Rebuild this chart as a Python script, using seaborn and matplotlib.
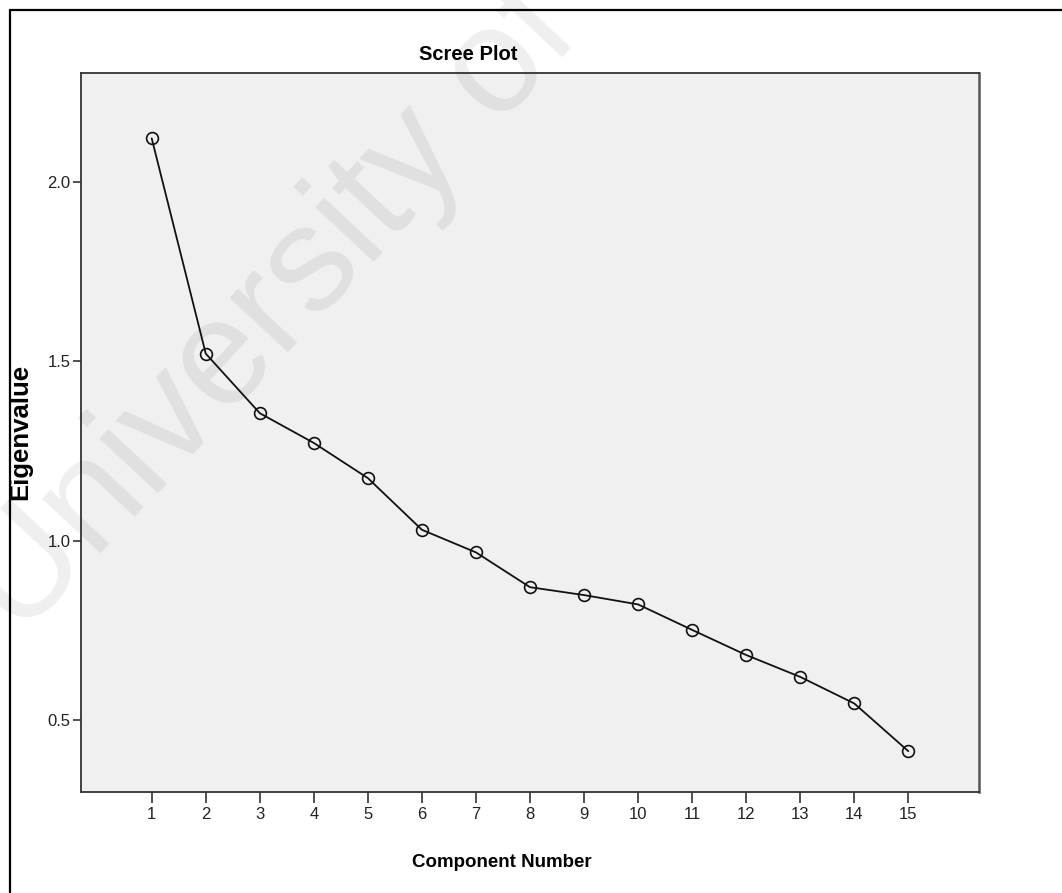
import matplotlib
matplotlib.use("Agg")
import matplotlib.pyplot as plt
from matplotlib.lines import Line2D
import seaborn as sns
import pandas as pd

# ---- data ----
components = [1, 2, 3, 4, 5, 6, 7, 8, 9, 10, 11, 12, 13, 14, 15]
eigenvalues = [2.121, 1.521, 1.355, 1.272, 1.174, 1.030, 0.967, 0.870,
               0.848, 0.822, 0.751, 0.681, 0.620, 0.546, 0.413]
y_ticks = [0.5, 1.0, 1.5, 2.0]
y_tick_labels = ["0.5", "1.0", "1.5", "2.0"]
title = "Scree Plot"
x_label = "Component Number"
y_label = "Eigenvalue"
watermark = "University of Cape Town"

df = pd.DataFrame({"Component": components, "Eigenvalue": eigenvalues})

sns.set_theme(style="white")
plt.rcParams["font.family"] = ["Liberation Sans", "DejaVu Sans"]

W, H = 1062, 893
fig = plt.figure(figsize=(W / 100, H / 100), dpi=100)
fig.patch.set_facecolor("white")

ax_l, ax_r, ax_t, ax_b = 80.7, 979.3, 72.7, 791.7
ax = fig.add_axes([ax_l / W, 1 - ax_b / H, (ax_r - ax_l) / W, (ax_b - ax_t) / H])
ax.set_facecolor("#f0f0f0")

sns.lineplot(data=df, x="Component", y="Eigenvalue", ax=ax, color="#111111",
             linewidth=1.3, marker="o", markersize=8.5, markerfacecolor="none",
             markeredgecolor="#111111", markeredgewidth=1.2, zorder=3)

ax.set_xlim(-0.314, 16.314)
ax.set_ylim(0.30, 2.304)
ax.set_xticks(components)
ax.set_xticklabels([str(c) for c in components])
ax.set_yticks(y_ticks)
ax.set_yticklabels(y_tick_labels)
ax.set_xlabel("")
ax.set_ylabel("")
ax.grid(False)

for side in ["left", "bottom", "top"]:
    ax.spines[side].set_color("#333333")
    ax.spines[side].set_linewidth(1.3)
ax.spines["right"].set_color("#555555")
ax.spines["right"].set_linewidth(1.8)

ax.tick_params(axis="x", which="major", direction="out", length=8, width=1.2,
               color="#333333", labelsize=12, labelcolor="#222222", pad=3,
               bottom=True)
ax.tick_params(axis="y", which="major", direction="out", length=6, width=1.2,
               color="#333333", labelsize=12, labelcolor="#222222", pad=1.5,
               left=True)

# watermark
ax.text(20 / W, 1 - 640 / H, watermark, transform=fig.transFigure,
        rotation=47, rotation_mode="anchor", ha="left", va="baseline",
        fontsize=108, color="black", alpha=0.065, clip_on=False, zorder=1)

# titles
fig.text(468 / W, 1 - 60 / H, title, ha="center", va="baseline",
         fontsize=14.5, fontweight="bold", color="black")
fig.text(502 / W, 1 - 867 / H, x_label, ha="center", va="baseline",
         fontsize=13.5, fontweight="bold", color="black")
fig.text(20 / W, 1 - 432 / H, y_label, ha="center", va="center",
         rotation=90, fontsize=18.5, fontweight="bold", color="black")

# outer frame (left and top edges of the screenshot border)
fig.add_artist(Line2D([9.5 / W, 9.5 / W], [0, 1 - 10 / H],
                      transform=fig.transFigure, color="black", linewidth=1.6))
fig.add_artist(Line2D([9.5 / W, 1], [1 - 10 / H, 1 - 10 / H],
                      transform=fig.transFigure, color="black", linewidth=1.6))

fig.savefig("out.png", dpi=100, facecolor="white")
